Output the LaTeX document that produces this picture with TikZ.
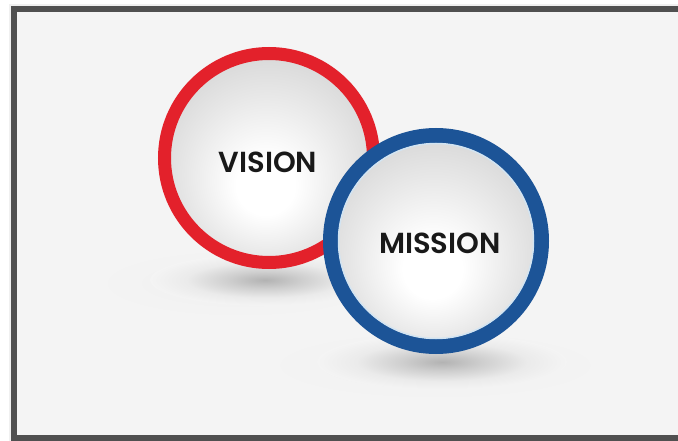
\documentclass[tikz,border=0pt]{standalone}
\usepackage{fontspec}
\setmainfont{Poppins}
\newfontfamily\labfont{Poppins SemiBold}
\usetikzlibrary{calc}
\definecolor{bgc}{HTML}{F4F4F4}
\definecolor{framec}{HTML}{505050}
\definecolor{redring}{HTML}{E3212B}
\definecolor{bluering}{HTML}{1C5497}
\definecolor{rimblue}{HTML}{D2E4F2}
\pgfdeclareradialshading{ballshade}{\pgfpoint{-1bp}{-8bp}}{%
  color(0bp)=(white); color(7bp)=(white); color(19bp)=(black!9); color(30bp)=(black!17); color(40bp)=(black!19)}
\pgfdeclareradialshading{shadowdark}{\pgfpointorigin}{%
  color(0bp)=(black!30); color(8bp)=(black!19); color(17bp)=(black!8); color(25bp)=(bgc); color(50bp)=(bgc)}
\pgfdeclareradialshading{shadowwide}{\pgfpointorigin}{%
  color(0bp)=(black!6); color(15bp)=(black!5); color(25bp)=(bgc); color(50bp)=(bgc)}
\tikzset{
  ball/.style={circle, shading=ballshade, minimum size=#1, inner sep=0pt},
  ringred/.style={draw=redring, line width=13pt},
  ringblue/.style={draw=bluering, line width=15pt},
  label/.style={font=\labfont\fontsize{29}{29}\selectfont, text=black!90}
}
\begin{document}
\begin{tikzpicture}[x=1pt,y=-1pt]
\useasboundingbox (0,0) rectangle (678,441);
\clip (0,0) rectangle (678,441);
\fill[white] (0,0) rectangle (678,441);
\fill[black!6] (9,4) rectangle (690,450);
\fill[bgc] (14,9) rectangle (690,450);
% shadows
\shade[shading=shadowwide] (240,283) ellipse (150 and 36);
\shade[shading=shadowdark] (265,280) ellipse (115 and 26);
\shade[shading=shadowwide] (435,365) ellipse (175 and 36);
\shade[shading=shadowdark] (442,362) ellipse (125 and 28);
% vision
\node[ball=209pt, ringred] (vis) at (269,158) {};
\node[label] at (268,162) {VISION};
% mission
\node[ball=211pt, ringblue] (mis) at (436,241) {};
\draw[rimblue, line width=1.5pt] (mis.center) circle (97.5);
\node[label] at (440,243) {MISSION};
% frame
\draw[framec, line width=6pt] (14,9) rectangle (690,438);
\end{tikzpicture}
\end{document}
